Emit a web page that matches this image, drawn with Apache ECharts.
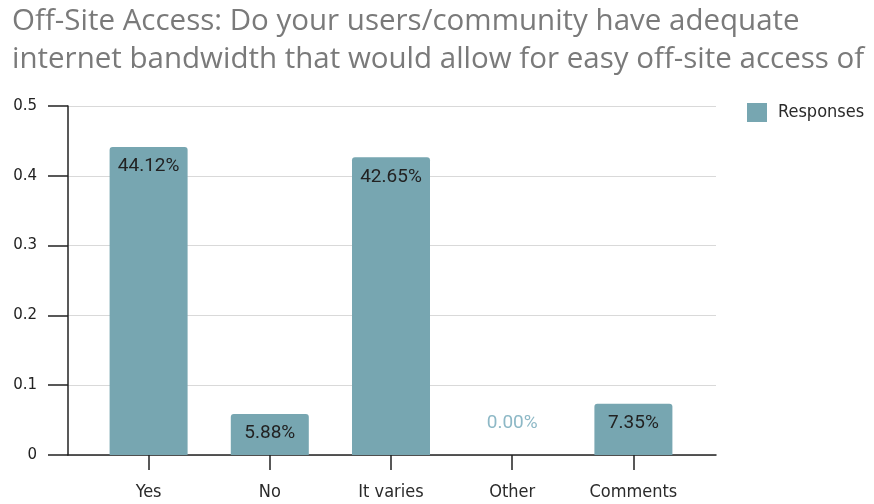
<!DOCTYPE html>
<html lang="en">
<head>
    <meta charset="UTF-8">
    <title>Off-Site Access</title>
    <script src="https://cdn.jsdelivr.net/npm/echarts@6/dist/echarts.min.js"></script>
</head>
<body style="margin:0">
<div id="main" style="width: 874px;height: 504px;"></div>
<script type="text/javascript">
var categories = ['Yes', 'No', 'It varies', 'Other', 'Comments'];
var responses = [0.4412, 0.0588, 0.4265, 0, 0.0735];
var yTicks = [0, 0.1, 0.2, 0.3, 0.4, 0.5];

var barColor = '#77a6b1';
var labelFont = 'DejaVu Sans Condensed';
var myChart = echarts.init(document.getElementById('main'));

var barData = responses.map(function (v) {
    if (v === 0) {
        // zero bar: label sits above the axis in pale blue
        return {value: v, label: {position: 'top', distance: 22, color: '#8db8c6'}};
    }
    return v;
});

myChart.setOption({
    animation: false,
    title: {
        text: 'Off-Site Access: Do your users/community have adequate\ninternet bandwidth that would allow for easy off-site access of',
        left: 7,
        top: -2,
        textStyle: {
            fontFamily: 'Open Sans',
            fontWeight: 'normal',
            fontSize: 29.5,
            lineHeight: 38,
            color: '#7a7a7a'
        }
    },
    legend: {
        data: ['Responses'],
        left: 742,
        top: 98,
        itemWidth: 20,
        itemHeight: 19,
        itemGap: 12,
        icon: 'rect',
        textStyle: {fontFamily: labelFont, fontSize: 18, color: '#2a2a2a', padding: [0, 0, 0, 6]}
    },
    grid: [
        {left: 68, right: 158, top: 106, bottom: 49},
        {left: 88, right: 180, top: 106, bottom: 49}
    ],
    xAxis: [
        {
            gridIndex: 0, type: 'category', data: categories,
            axisLine: {lineStyle: {color: '#222', width: 1.5}},
            axisTick: {show: false}, axisLabel: {show: false}
        },
        {
            gridIndex: 1, type: 'category', data: categories,
            axisLine: {show: false},
            axisTick: {show: true, alignWithLabel: true, length: 15, lineStyle: {color: '#222', width: 1.5}},
            axisLabel: {fontFamily: labelFont, fontSize: 18, color: '#2a2a2a', margin: 28}
        }
    ],
    yAxis: [
        {
            gridIndex: 0, type: 'value', min: 0, max: 0.5, interval: 0.1,
            axisLine: {show: true, lineStyle: {color: '#222', width: 1.5}},
            axisTick: {show: true, length: 20, lineStyle: {color: '#222', width: 1.5}},
            splitLine: {lineStyle: {color: '#d9d9d9'}},
            axisLabel: {
                fontFamily: 'DejaVu Sans', fontSize: 15, color: '#222', margin: 31,
                formatter: function (v) { return yTicks.indexOf(v) >= 0 ? String(v) : ''; }
            }
        },
        {
            gridIndex: 1, type: 'value', min: 0, max: 0.5, interval: 0.1, show: false
        }
    ],
    series: [
        {
            name: 'Responses',
            type: 'bar',
            xAxisIndex: 1,
            yAxisIndex: 1,
            barWidth: 78,
            data: barData,
            itemStyle: {color: barColor, borderRadius: [3, 3, 0, 0]},
            label: {
                show: true,
                position: 'insideTop',
                distance: 10,
                fontFamily: 'Roboto',
                fontSize: 19,
                color: '#222',
                formatter: function (p) { return (p.value * 100).toFixed(2) + '%'; }
            }
        }
    ]
});
</script>
</body>
</html>
